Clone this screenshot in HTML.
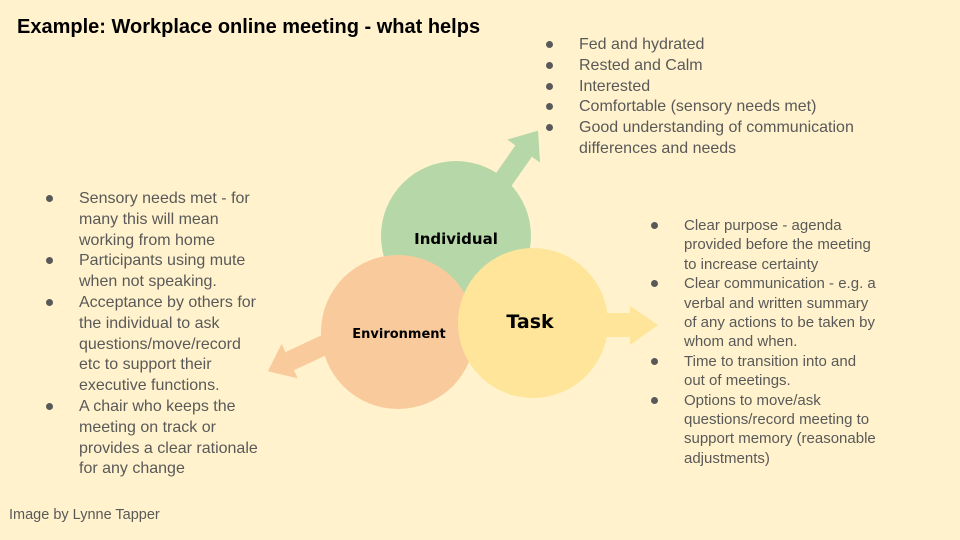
<!DOCTYPE html>
<html><head><style>
body{margin:0;width:960px;height:540px;background:#fff2cc;position:relative;overflow:hidden;font-family:"Liberation Sans",Arial,sans-serif;color:#595959}
.t{position:absolute;font-size:16px;line-height:20.8px}
.t div{position:relative;padding-left:35px}
.t div:before{content:"";position:absolute;left:2px;top:6px;width:7px;height:7px;border-radius:50%;background:#595959}
h1{position:absolute;left:17px;top:16px;margin:0;font-size:20px;color:#000;font-weight:bold}
</style></head><body>
<h1>Example: Workplace online meeting - what helps</h1>
<svg width="960" height="540" style="position:absolute;left:0;top:0">
<g fill="#b6d7a8">
<g transform="translate(495,192) rotate(-55)"><rect x="0" y="-10" width="50" height="20"/><polygon points="50,-20 75,0 50,20"/></g>
<circle cx="456" cy="236" r="75"/>
</g>
<g fill="#f9cb9c">
<g transform="translate(335,340) rotate(155)"><rect x="0" y="-10" width="50" height="20"/><polygon points="50,-19 74,0 50,19"/></g>
<circle cx="398" cy="332" r="77"/>
</g>
<g fill="#ffe599">
<rect x="590" y="313" width="40" height="24"/>
<polygon points="630,306 658,325 630,345"/>
<circle cx="533" cy="323" r="75"/>
</g>
<g font-family="'DejaVu Sans',sans-serif" font-weight="bold" fill="#000" text-anchor="middle">
<text x="456" y="244" font-size="15">Individual</text>
<text x="399" y="338" font-size="13">Environment</text>
<text x="530" y="328" font-size="19">Task</text>
</g>
</svg>
<div class="t" style="left:544px;top:35px;width:380px">
<div>Fed and hydrated</div><div>Rested and Calm</div><div>Interested</div><div>Comfortable (sensory needs met)</div><div>Good understanding of communication differences and needs</div>
</div>
<div class="t" style="left:44px;top:189px;width:222px">
<div>Sensory needs met - for many this will mean working from home</div><div>Participants using mute when not speaking.</div><div>Acceptance by others for the individual to ask questions/move/record etc to support their executive functions.</div><div>A chair who keeps the meeting on track or provides a clear rationale for any change</div>
</div>
<div class="t" style="left:649px;top:216px;width:230px;font-size:15px;line-height:19.4px">
<div>Clear purpose - agenda provided before the meeting to increase certainty</div><div>Clear communication - e.g. a verbal and written summary of any actions to be taken by whom and when.</div><div>Time to transition into and out of meetings.</div><div>Options to move/ask questions/record meeting to support memory (reasonable adjustments)</div>
</div>
<div style="position:absolute;left:9px;top:507px;font-size:14.5px">Image by Lynne Tapper</div>
</body></html>
